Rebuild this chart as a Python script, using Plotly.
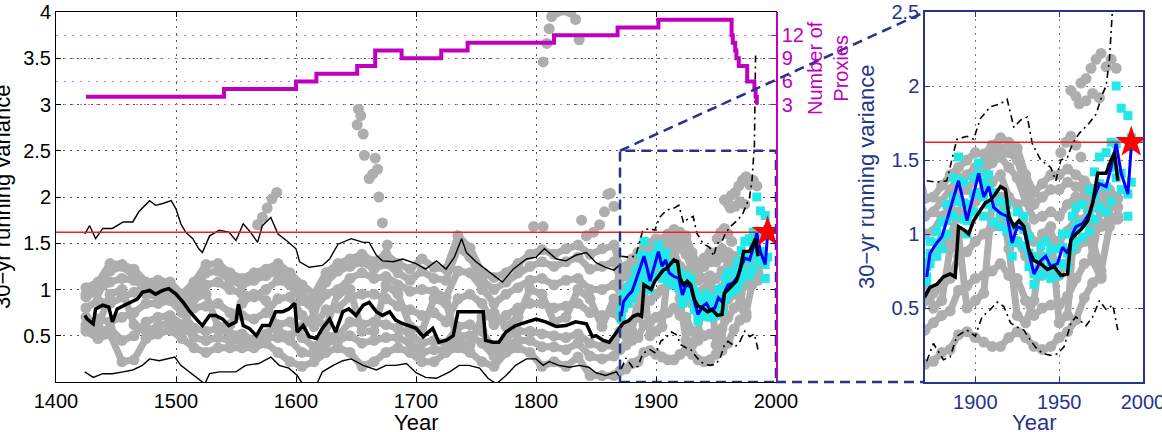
import plotly.graph_objects as go

W, H = 1162, 432
FONT = "Liberation Sans, Arial, Helvetica, sans-serif"
MAGENTA = "#BF00BF"
NAVY = "#27348B"
GRAY = "#AEAEAE"
CYAN = "#22E8EA"

# ---------------- data ----------------
PROXY_YEARS = [1425, 1540, 1600, 1617, 1651, 1666, 1688, 1721, 1743, 1815, 1868, 1902,
               1963, 1964, 1966, 1967, 1969, 1976, 1982, 1983, 1984]
PROXY_COUNT = [4, 5, 6, 7, 8, 10, 9, 10, 11, 12, 13, 14,
               12, 11, 10, 9, 8, 6, 5, 4, 3]

GRAY_YEARS = [1425, 1435, 1445, 1455, 1465, 1475, 1485, 1495, 1505, 1515,
              1525, 1535, 1545, 1555, 1565, 1575, 1585, 1595, 1605, 1615,
              1625, 1635, 1645, 1655, 1665, 1675, 1685, 1695, 1705, 1715,
              1725, 1735, 1745, 1755, 1765, 1775, 1785, 1795, 1805, 1815,
              1825, 1835, 1845, 1855, 1865,
              1870, 1875, 1880, 1885, 1890, 1895, 1900, 1905, 1910, 1915,
              1920, 1925, 1930, 1935, 1940, 1945, 1950, 1955, 1960, 1965,
              1970, 1975, 1980, 1985, 1990, 1995]

GRAY_1 = [1.02, 1.08, 1.28, 1.27, 1.22, 1.08, 1.10, 1.08, 0.95, 1.08,
          1.27, 1.28, 1.18, 1.12, 1.18, 1.22, 1.28, 1.18, 1.05, 0.95,
          1.18, 1.28, 1.33, 1.38, 1.30, 1.38, 1.28, 1.22, 1.33, 1.24,
          1.22, 1.58, 1.45, 1.18, 1.13, 1.18, 1.28, 1.38, 1.43, 1.38,
          1.44, 1.48, 1.38, 1.44, 1.48,
          1.24, 1.25, 1.33, 1.40, 1.45, 1.50, 1.55, 1.54, 1.60, 1.65,
          1.62, 1.58, 1.40, 1.28, 1.34, 1.40, 1.40, 1.44, 1.40, 1.36,
          1.30, 1.28, 1.30, 1.24, None, None]
GRAY_2 = [0.92, 0.98, 1.08, 1.12, 1.10, 1.05, 1.04, 1.06, 0.92, 0.95,
          1.05, 1.08, 1.00, 0.95, 0.92, 1.00, 1.10, 1.05, 0.88, 0.78,
          0.95, 1.00, 1.12, 1.18, 1.12, 1.14, 1.05, 0.98, 1.00, 0.98,
          0.92, 1.20, 1.18, 1.00, 0.85, 0.95, 1.02, 1.10, 1.12, 1.05,
          1.10, 1.12, 1.00, 1.00, 1.05,
          1.00, 1.02, 1.12, 1.18, 1.28, 1.30, 1.38, 1.42, 1.48, 1.52,
          1.45, 1.38, 1.22, 1.10, 1.12, 1.15, 1.12, 1.20, 1.25, 1.22,
          1.18, 1.15, 1.20, 1.18, None, None]
GRAY_3 = [0.80, 0.88, 0.85, 0.92, 0.97, 1.02, 1.00, 1.03, 0.90, 0.80,
          0.82, 0.85, 0.75, 0.72, 0.68, 0.75, 0.90, 0.92, 0.72, 0.60,
          0.78, 0.80, 0.92, 0.95, 0.95, 0.90, 0.82, 0.78, 0.72, 0.75,
          0.65, 0.90, 0.95, 0.85, 0.62, 0.72, 0.80, 0.85, 0.85, 0.80,
          0.82, 0.85, 0.75, 0.72, 0.75,
          0.80, 0.85, 0.92, 0.98, 1.15, 1.12, 1.22, 1.30, 1.35, 1.40,
          1.25, 1.20, 1.05, 0.95, 0.95, 0.98, 0.95, 1.02, 1.10, 1.10,
          1.08, 1.05, 1.12, 1.10, None, None]
GRAY_4 = [0.62, 0.68, 0.65, 0.70, 0.75, 0.85, 0.85, 0.88, 0.75, 0.58,
          0.55, 0.58, 0.52, 0.52, 0.45, 0.52, 0.62, 0.65, 0.48, 0.38,
          0.50, 0.50, 0.65, 0.62, 0.65, 0.62, 0.58, 0.52, 0.42, 0.45,
          0.42, 0.60, 0.62, 0.55, 0.35, 0.48, 0.55, 0.55, 0.52, 0.50,
          0.48, 0.52, 0.42, 0.38, 0.40,
          0.55, 0.60, 0.65, 0.70, 0.85, 0.88, 0.95, 1.00, 1.05, 1.10,
          1.00, 0.95, 0.85, 0.75, 0.72, 0.75, 0.72, 0.80, 0.90, 0.95,
          0.95, 0.75, 1.05, 1.12, None, None]
GRAY_5 = [0.58, 0.55, 0.58, 0.45, 0.50, 0.65, 0.70, 0.72, 0.62, 0.48,
          0.45, 0.48, 0.45, 0.45, 0.42, 0.48, 0.48, 0.45, 0.32, 0.30,
          0.42, 0.45, 0.50, 0.42, 0.45, 0.48, 0.48, 0.42, 0.32, 0.35,
          0.35, 0.50, 0.50, 0.42, 0.28, 0.40, 0.45, 0.45, 0.38, 0.38,
          0.35, 0.42, 0.28, 0.25, 0.28,
          0.35, 0.40, 0.45, 0.48, 0.62, 0.65, 0.70, 0.72, 0.75, 0.80,
          0.72, 0.70, 0.55, 0.45, 0.50, 0.52, 0.52, 0.58, 0.70, 0.80,
          0.82, 0.70, None, None, None, None]
GRAY_6 = [0.55, 0.47, 0.52, 0.22, 0.24, 0.47, 0.52, 0.56, 0.47, 0.37,
          0.32, 0.37, 0.37, 0.37, 0.37, 0.42, 0.32, 0.22, 0.17, 0.22,
          0.32, 0.37, 0.32, 0.17, 0.22, 0.32, 0.37, 0.32, 0.22, 0.22,
          0.32, 0.37, 0.32, 0.22, 0.17, 0.32, 0.37, 0.32, 0.17, 0.22,
          0.17, 0.27, 0.07, 0.07, 0.07,
          0.12, 0.14, 0.20, 0.22, 0.32, 0.34, 0.30, 0.27, 0.24, 0.24,
          0.30, 0.34, 0.30, 0.24, 0.22, 0.24, 0.30, 0.34, 0.42, 0.57,
          0.67, 0.72, None, None, None, None]
GRAY_7 = [0.95, 1.05, 1.20, 1.25, 1.15, 0.95, 0.92, 0.95, 0.82, 1.00,
          1.18, 1.20, 1.10, 1.05, 1.10, 1.15, 1.20, 1.12, 0.95, 0.85,
          1.08, 1.20, 1.25, 1.30, 1.22, 1.28, 1.18, 1.10, 1.20, 1.12,
          1.10, 1.45, 1.35, 1.10, 1.00, 1.08, 1.18, 1.25, 1.30, 1.25,
          1.30, 1.35, 1.22, 1.25, 1.30,
          1.12, 1.15, 1.22, 1.30, 1.38, 1.40, 1.45, 1.48, 1.55, 1.58,
          1.55, 1.50, 1.32, 1.20, 1.25, 1.30, 1.30, 1.35, 1.32, 1.30,
          1.25, 1.22, 1.25, None, None, None]
GRAY_8 = [0.70, 0.60, 0.95, 1.00, 0.62, 0.55, 0.60, 0.65, 0.55, 0.90,
          0.95, 0.60, 0.62, 0.85, 0.95, 0.88, 0.55, 0.50, 0.60, 0.70,
          0.60, 0.95, 1.00, 0.55, 0.55, 1.05, 0.95, 0.60, 0.55, 0.90,
          0.85, 0.45, 0.40, 0.70, 0.75, 0.60, 0.70, 1.00, 0.95, 0.65,
          0.70, 1.00, 0.90, 0.60, 0.90,
          0.70, 0.50, 0.55, 0.90, 1.00, 0.50, 0.55, 0.60, 1.20, 1.25,
          0.90, 0.45, 0.40, 0.55, 1.00, 1.05, 0.40, 0.45, 1.20, 1.25,
          0.85, 1.20, 1.18, None, None, None]

OUT_A_YEARS = [1568, 1572, 1576, 1580, 1584]
OUT_A = [1.70, 1.78, 1.88, 1.98, 2.05]
OUT_B_YEARS = [1651, 1652, 1654, 1656, 1657, 1661, 1664, 1666, 1668, 1669, 1672, 1676]
OUT_B = [2.78, 2.95, 2.88, 2.68, 2.45, 2.20, 2.25, 2.42, 2.30, 2.00, 1.72, 1.48]
OUT_C_YEARS = [1798, 1806, 1806, 1809, 1811, 1813, 1817, 1821, 1825, 1829, 1833, 1836, 1838, 1842]
OUT_C = [1.68, 1.68, 3.46, 3.66, 3.82, 3.95, 4.00, 4.02, 4.02, 4.00, 3.92, 3.70, 1.75, 1.58]
OUT_D_YEARS = [1848, 1853, 1857, 1860, 1862, 1865]
OUT_D = [1.62, 1.70, 1.84, 2.03, 2.04, 1.90]
OUT_E_YEARS = [1957, 1960, 1962, 1963, 1966, 1966, 1969, 1970, 1972, 1974, 1975, 1978, 1981, 1984]
OUT_E = [1.97, 1.93, 1.88, 2.02, 2.05, 1.90, 2.12, 1.95, 2.18, 1.92, 2.22, 2.13, 2.18, 2.12]
OUT_F_YEARS = [1951, 1954, 1957, 1960, 1963]
OUT_F = [1.55, 1.62, 1.66, 1.60, 1.52]

MEAN_YEARS = [1424, 1426, 1431, 1433, 1439, 1444, 1447, 1451, 1457, 1462, 1468, 1472, 1478,
              1483, 1489, 1494, 1500, 1506, 1511, 1517, 1522, 1528, 1533, 1539, 1544, 1550,
              1552, 1556, 1561, 1567, 1572, 1578, 1583, 1589, 1594, 1599, 1601, 1606, 1611,
              1617, 1622, 1628, 1633, 1639, 1644, 1650, 1656, 1661, 1667, 1672, 1678, 1683,
              1689, 1694, 1700, 1706, 1710, 1714, 1719, 1725, 1731, 1735, 1742, 1747, 1756,
              1758, 1764, 1769, 1775, 1783, 1792, 1800, 1808, 1817, 1825, 1833, 1842, 1847,
              1850, 1856, 1861, 1867,
              1870, 1873, 1877, 1881, 1885, 1888, 1890, 1893, 1896, 1899, 1903, 1906, 1909,
              1912, 1915, 1918, 1920, 1923, 1926, 1929, 1932, 1935, 1939, 1943, 1947, 1951,
              1955, 1957, 1960, 1963, 1967, 1970, 1973, 1978, 1981, 1983, 1985]
MEAN_VALS = [0.72, 0.68, 0.63, 0.79, 0.83, 0.81, 0.65, 0.79, 0.83, 0.86, 0.90, 0.97, 0.99,
             0.95, 0.99, 1.01, 0.95, 0.86, 0.77, 0.68, 0.61, 0.72, 0.72, 0.68, 0.61, 0.65,
             0.84, 0.61, 0.58, 0.50, 0.61, 0.61, 0.76, 0.76, 0.79, 0.85, 0.54, 0.61, 0.49,
             0.47, 0.58, 0.68, 0.54, 0.76, 0.79, 0.72, 0.83, 0.86, 0.76, 0.72, 0.76, 0.67,
             0.63, 0.61, 0.58, 0.49, 0.54, 0.58, 0.43, 0.45, 0.50, 0.76, 0.76, 0.76, 0.76,
             0.45, 0.43, 0.43, 0.54, 0.61, 0.65, 0.68, 0.65, 0.60, 0.61, 0.65, 0.63, 0.49,
             0.50, 0.45, 0.43, 0.54,
             0.58, 0.64, 0.66, 0.71, 0.73, 0.71, 1.05, 1.03, 1.00, 1.09, 1.16, 1.21, 1.23,
             1.27, 1.32, 1.30, 1.12, 1.05, 1.09, 1.05, 0.89, 0.82, 0.80, 0.76, 0.78, 0.72,
             0.73, 0.96, 1.00, 1.03, 1.09, 1.21, 1.41, 1.41, 1.50, 1.55, 1.36]

UPPER_YEARS = [1424, 1428, 1433, 1439, 1447, 1456, 1464, 1469, 1478, 1483, 1489, 1496, 1500,
               1504, 1508, 1514, 1519, 1522, 1528, 1536, 1544, 1550, 1556, 1562, 1568, 1572,
               1579, 1585, 1592, 1600, 1603, 1611, 1622, 1628, 1635, 1646, 1656, 1661, 1667,
               1672, 1681, 1689, 1700, 1708, 1717, 1725, 1732, 1738, 1742, 1750, 1758, 1767,
               1772, 1781, 1792, 1800, 1807, 1817, 1825, 1833, 1842, 1850, 1858, 1865, 1869]
UPPER_VALS = [1.60, 1.69, 1.55, 1.66, 1.66, 1.73, 1.73, 1.84, 1.96, 1.91, 1.93, 1.96, 1.87,
              1.71, 1.62, 1.55, 1.44, 1.40, 1.58, 1.64, 1.62, 1.53, 1.71, 1.62, 1.51, 1.69,
              1.78, 1.60, 1.53, 1.44, 1.30, 1.24, 1.26, 1.33, 1.49, 1.55, 1.51, 1.51, 1.37,
              1.31, 1.30, 1.33, 1.28, 1.22, 1.31, 1.22, 1.35, 1.55, 1.40, 1.30, 1.22, 1.13,
              1.08, 1.22, 1.33, 1.35, 1.44, 1.33, 1.31, 1.37, 1.40, 1.29, 1.24, 1.21, 1.26]

LOWER_YEARS = [1424, 1431, 1439, 1447, 1456, 1464, 1472, 1478, 1486, 1492, 1499, 1504, 1511,
               1519, 1524, 1528, 1536, 1544, 1550, 1558, 1569, 1579, 1586, 1594, 1601, 1606,
               1617, 1622, 1631, 1639, 1646, 1656, 1667, 1675, 1683, 1692, 1700, 1708, 1717,
               1728, 1736, 1744, 1753, 1760, 1767, 1775, 1783, 1792, 1800, 1806, 1811, 1819,
               1828, 1836, 1844, 1850, 1858, 1867, 1869]
LOWER_VALS = [0.11, 0.05, 0.09, 0.09, 0.11, 0.13, 0.18, 0.25, 0.23, 0.25, 0.27, 0.18, 0.11,
              0.04, -0.02, 0.09, 0.11, 0.11, 0.11, 0.18, 0.20, 0.27, 0.18, 0.15, 0.07, -0.03,
              -0.03, 0.11, 0.18, 0.23, 0.25, 0.18, 0.13, 0.18, 0.18, 0.20, 0.10, 0.05, 0.04,
              0.11, 0.18, 0.18, 0.15, 0.04, -0.02, 0.07, 0.18, 0.25, 0.25, 0.18, 0.22, 0.18,
              0.16, 0.18, 0.16, 0.10, 0.07, 0.11, 0.07]

DD_UP_YEARS = [1871, 1877, 1883, 1889, 1895, 1899, 1903, 1909, 1915, 1919, 1923, 1927, 1931,
               1934, 1939, 1945, 1948, 1951, 1955, 1958, 1962, 1968, 1972, 1976, 1978, 1980,
               1982, 1983]
DD_UP_VALS = [1.36, 1.35, 1.36, 1.64, 1.66, 1.64, 1.78, 1.86, 1.88, 1.91, 1.72, 1.77, 1.79,
              1.61, 1.50, 1.45, 1.36, 1.50, 1.52, 1.61, 1.68, 1.75, 1.81, 1.95, 2.00, 2.18,
              2.56, 3.56]
DD_LO_YEARS = [1871, 1875, 1881, 1885, 1889, 1895, 1900, 1904, 1909, 1913, 1917, 1921, 1925,
               1929, 1933, 1937, 1941, 1945, 1949, 1953, 1957, 1960, 1966, 1970, 1974, 1978,
               1982, 1985]
DD_LO_VALS = [0.14, 0.26, 0.15, 0.17, 0.31, 0.35, 0.31, 0.44, 0.49, 0.54, 0.51, 0.40, 0.37,
              0.35, 0.28, 0.22, 0.19, 0.18, 0.19, 0.24, 0.40, 0.44, 0.38, 0.44, 0.55, 0.49,
              0.52, 0.35]

BLUE_YEARS = [1871, 1873, 1877, 1880, 1883, 1887, 1890, 1893, 1895, 1899, 1902, 1905, 1908,
              1911, 1915, 1919, 1922, 1925, 1929, 1932, 1935, 1939, 1942, 1945, 1949, 1952,
              1955, 1958, 1960, 1964, 1968, 1971, 1974, 1978, 1981, 1984, 1987, 1991, 1993]
BLUE_VALS = [0.71, 0.87, 0.94, 0.98, 1.09, 1.25, 1.36, 1.21, 1.09, 1.27, 1.41, 1.25, 1.32,
             1.18, 1.14, 1.12, 0.94, 1.05, 1.03, 0.87, 0.73, 0.82, 0.85, 0.78, 0.80, 0.91,
             0.87, 1.00, 1.05, 1.07, 1.14, 1.25, 1.34, 1.32, 1.45, 1.61, 1.41, 1.27, 1.59]
CYAN_HI = [0.78, 0.95, 1.02, 1.08, 1.20, 1.38, 1.52, 1.35, 1.20, 1.38, 1.48, 1.35, 1.40,
           1.28, 1.22, 1.20, 1.05, 1.15, 1.12, 0.98, 0.85, 0.92, 0.95, 0.90, 0.90, 1.00,
           1.00, 1.12, 1.18, 1.20, 1.30, 1.42, 1.52, 1.55, 1.62, 2.00, 1.85, 1.80, 1.65]
CYAN_LO = [0.68, 0.80, 0.85, 0.90, 1.00, 1.12, 1.22, 1.10, 1.00, 1.15, 1.28, 1.12, 1.20,
           1.08, 1.05, 1.02, 0.85, 0.95, 0.92, 0.78, 0.66, 0.72, 0.75, 0.70, 0.72, 0.80,
           0.78, 0.90, 0.95, 0.98, 1.02, 1.10, 1.18, 1.15, 1.22, 1.38, 1.30, 1.12, 1.35]

THRESH_X = [1400, 2000]
THRESH_Y = [1.62, 1.62]
STAR_X = [1993]
STAR_Y = [1.62]

MAIN_X_RANGE = [1400, 2000]
MAIN_Y_RANGE = [0, 4]
ZOOM_X_RANGE = [1870, 2000]
ZOOM_Y_RANGE = [0, 2.5]
PROXY_RANGE = [-33, 15]

# ---------------- layout geometry ----------------
MAIN_X_DOM = [56 / W, 776 / W]
INSET_X_DOM = [925 / W, 1143 / W]
Y_DOM = [50 / H, 420 / H]

fig = go.Figure()


def add(panel_main, panel_inset, **kw):
    if panel_main:
        fig.add_trace(go.Scatter(xaxis="x", yaxis="y", **kw))
    if panel_inset:
        fig.add_trace(go.Scatter(xaxis="x3", yaxis="y3", **kw))


gray_marker = dict(color=GRAY, size=11, line=dict(width=0))
for ys in [GRAY_6, GRAY_5, GRAY_4, GRAY_8, GRAY_3, GRAY_2, GRAY_7, GRAY_1]:
    add(True, True, x=GRAY_YEARS, y=ys, mode="lines+markers", marker=gray_marker,
        line=dict(color=GRAY, width=7), connectgaps=False)
for xs, ys in [(OUT_A_YEARS, OUT_A), (OUT_B_YEARS, OUT_B), (OUT_C_YEARS, OUT_C),
               (OUT_D_YEARS, OUT_D), (OUT_E_YEARS, OUT_E), (OUT_F_YEARS, OUT_F)]:
    add(True, True, x=xs, y=ys, mode="markers", marker=gray_marker)

cyan_marker = dict(color=CYAN, size=9, symbol="square", line=dict(width=0))
for ys in [CYAN_HI, CYAN_LO, BLUE_VALS]:
    add(True, True, x=BLUE_YEARS, y=ys, mode="markers", marker=cyan_marker)

add(True, False, x=UPPER_YEARS, y=UPPER_VALS, mode="lines", line=dict(color="black", width=1.4))
add(True, False, x=LOWER_YEARS, y=LOWER_VALS, mode="lines", line=dict(color="black", width=1.4))
for xs, ys in [(DD_UP_YEARS, DD_UP_VALS), (DD_LO_YEARS, DD_LO_VALS)]:
    add(True, True, x=xs, y=ys, mode="lines",
        line=dict(color="black", width=1.6, dash="7px,4px,2px,4px"))

add(True, True, x=BLUE_YEARS, y=BLUE_VALS, mode="lines", line=dict(color="#0000FF", width=3))
add(True, True, x=MEAN_YEARS, y=MEAN_VALS, mode="lines", line=dict(color="black", width=3.5))
add(True, True, x=THRESH_X, y=THRESH_Y, mode="lines", line=dict(color="#F02020", width=1.5))
add(True, True, x=STAR_X, y=STAR_Y, mode="markers",
    marker=dict(symbol="star", size=24, color="#FF0000", line=dict(width=0)))

fig.add_trace(go.Scatter(x=PROXY_YEARS, y=PROXY_COUNT, xaxis="x", yaxis="y2", mode="lines",
                         line=dict(color=MAGENTA, width=4, shape="hv")))

tickfont = dict(family=FONT, size=20, color="black")
common = dict(automargin=False, zeroline=False, showgrid=True, gridwidth=1)
fig.update_layout(
    template="none",
    width=W, height=H, autosize=False,
    margin=dict(l=0, r=0, t=0, b=0, pad=0),
    paper_bgcolor="white", plot_bgcolor="white",
    showlegend=False,
    font=dict(family=FONT),
    xaxis=dict(domain=MAIN_X_DOM, range=MAIN_X_RANGE, anchor="y",
               tickvals=[1400, 1500, 1600, 1700, 1800, 1900, 2000],
               ticks="inside", ticklen=5, tickcolor="black", ticklabelstandoff=1,
               showline=True, linecolor="black", linewidth=1, mirror="ticks",
               gridcolor="#555555", griddash="2px,5px", tickfont=tickfont, **common),
    yaxis=dict(domain=Y_DOM, range=MAIN_Y_RANGE, anchor="x",
               tickvals=[0.5, 1, 1.5, 2, 2.5, 3, 3.5, 4],
               ticktext=["0.5", "1", "1.5", "2", "2.5", "3", "3.5", "4"],
               ticks="inside", ticklen=5, tickcolor="black",
               showline=True, linecolor="black", linewidth=1, mirror="ticks",
               gridcolor="#555555", griddash="2px,5px", tickfont=tickfont, **common),
    yaxis2=dict(overlaying="y", side="right", anchor="x", range=PROXY_RANGE,
                tickvals=[3, 6, 9, 12], ticks="inside", ticklen=5, tickcolor=MAGENTA,
                showline=True, linecolor=MAGENTA, linewidth=1.5,
                gridcolor="#E070E0", griddash="2px,6px",
                tickfont=dict(family=FONT, size=20, color=MAGENTA), **common),
    xaxis3=dict(domain=INSET_X_DOM, range=ZOOM_X_RANGE, anchor="y3",
                tickvals=[1900, 1950, 2000], ticks="inside", ticklen=5, tickcolor=NAVY,
                ticklabelstandoff=1, ticklabeloverflow="allow",
                showline=True, linecolor=NAVY, linewidth=1.5, mirror="ticks",
                gridcolor="#777777", griddash="2px,5px",
                tickfont=dict(family=FONT, size=20, color=NAVY), **common),
    yaxis3=dict(domain=Y_DOM, range=ZOOM_Y_RANGE, anchor="x3",
                tickvals=[0.5, 1, 1.5, 2, 2.5],
                ticktext=["0.5", "1", "1.5", "2", "2.5"],
                ticks="inside", ticklen=5, tickcolor=NAVY,
                showline=True, linecolor=NAVY, linewidth=1.5, mirror="ticks",
                gridcolor="#777777", griddash="2px,5px",
                tickfont=dict(family=FONT, size=20, color=NAVY), **common),
)


def px(v, rng, dom):
    return dom[0] + (v - rng[0]) / (rng[1] - rng[0]) * (dom[1] - dom[0])


dash_line = dict(color=NAVY, width=2.5, dash="10px,6px")
shapes = [
    dict(type="rect", xref="x", yref="y", x0=ZOOM_X_RANGE[0], x1=ZOOM_X_RANGE[1],
         y0=ZOOM_Y_RANGE[0], y1=ZOOM_Y_RANGE[1], line=dash_line, layer="above"),
    dict(type="line", xref="paper", yref="paper",
         x0=px(ZOOM_X_RANGE[0], MAIN_X_RANGE, MAIN_X_DOM),
         y0=px(ZOOM_Y_RANGE[1], MAIN_Y_RANGE, Y_DOM),
         x1=INSET_X_DOM[0], y1=Y_DOM[1], line=dash_line, layer="above"),
    dict(type="line", xref="paper", yref="paper",
         x0=px(ZOOM_X_RANGE[1], MAIN_X_RANGE, MAIN_X_DOM),
         y0=px(ZOOM_Y_RANGE[0], MAIN_Y_RANGE, Y_DOM),
         x1=INSET_X_DOM[0], y1=Y_DOM[0], line=dash_line, layer="above"),
]

ann = [
    dict(text="30\u2212yr running variance", textangle=-90, x=2 / W, y=(Y_DOM[0] + Y_DOM[1]) / 2,
         font=dict(family=FONT, size=22, color="black")),
    dict(text="Year", x=(MAIN_X_DOM[0] + MAIN_X_DOM[1]) / 2, y=10 / H,
         font=dict(family=FONT, size=22, color="black")),
    dict(text="Number of<br>Proxies", textangle=-90, x=828 / W, y=1 - 68 / H,
         font=dict(family=FONT, size=20, color=MAGENTA)),
    dict(text="30\u2212yr running variance", textangle=-90, x=866 / W, y=1 - 177 / H,
         font=dict(family=FONT, size=22, color=NAVY)),
    dict(text="Year", x=(INSET_X_DOM[0] + INSET_X_DOM[1]) / 2, y=10 / H,
         font=dict(family=FONT, size=22, color=NAVY)),
]
for a in ann:
    a.update(xref="paper", yref="paper", xanchor="center", yanchor="middle", showarrow=False)

fig.update_layout(shapes=shapes, annotations=ann)
fig.write_html("out.html")
